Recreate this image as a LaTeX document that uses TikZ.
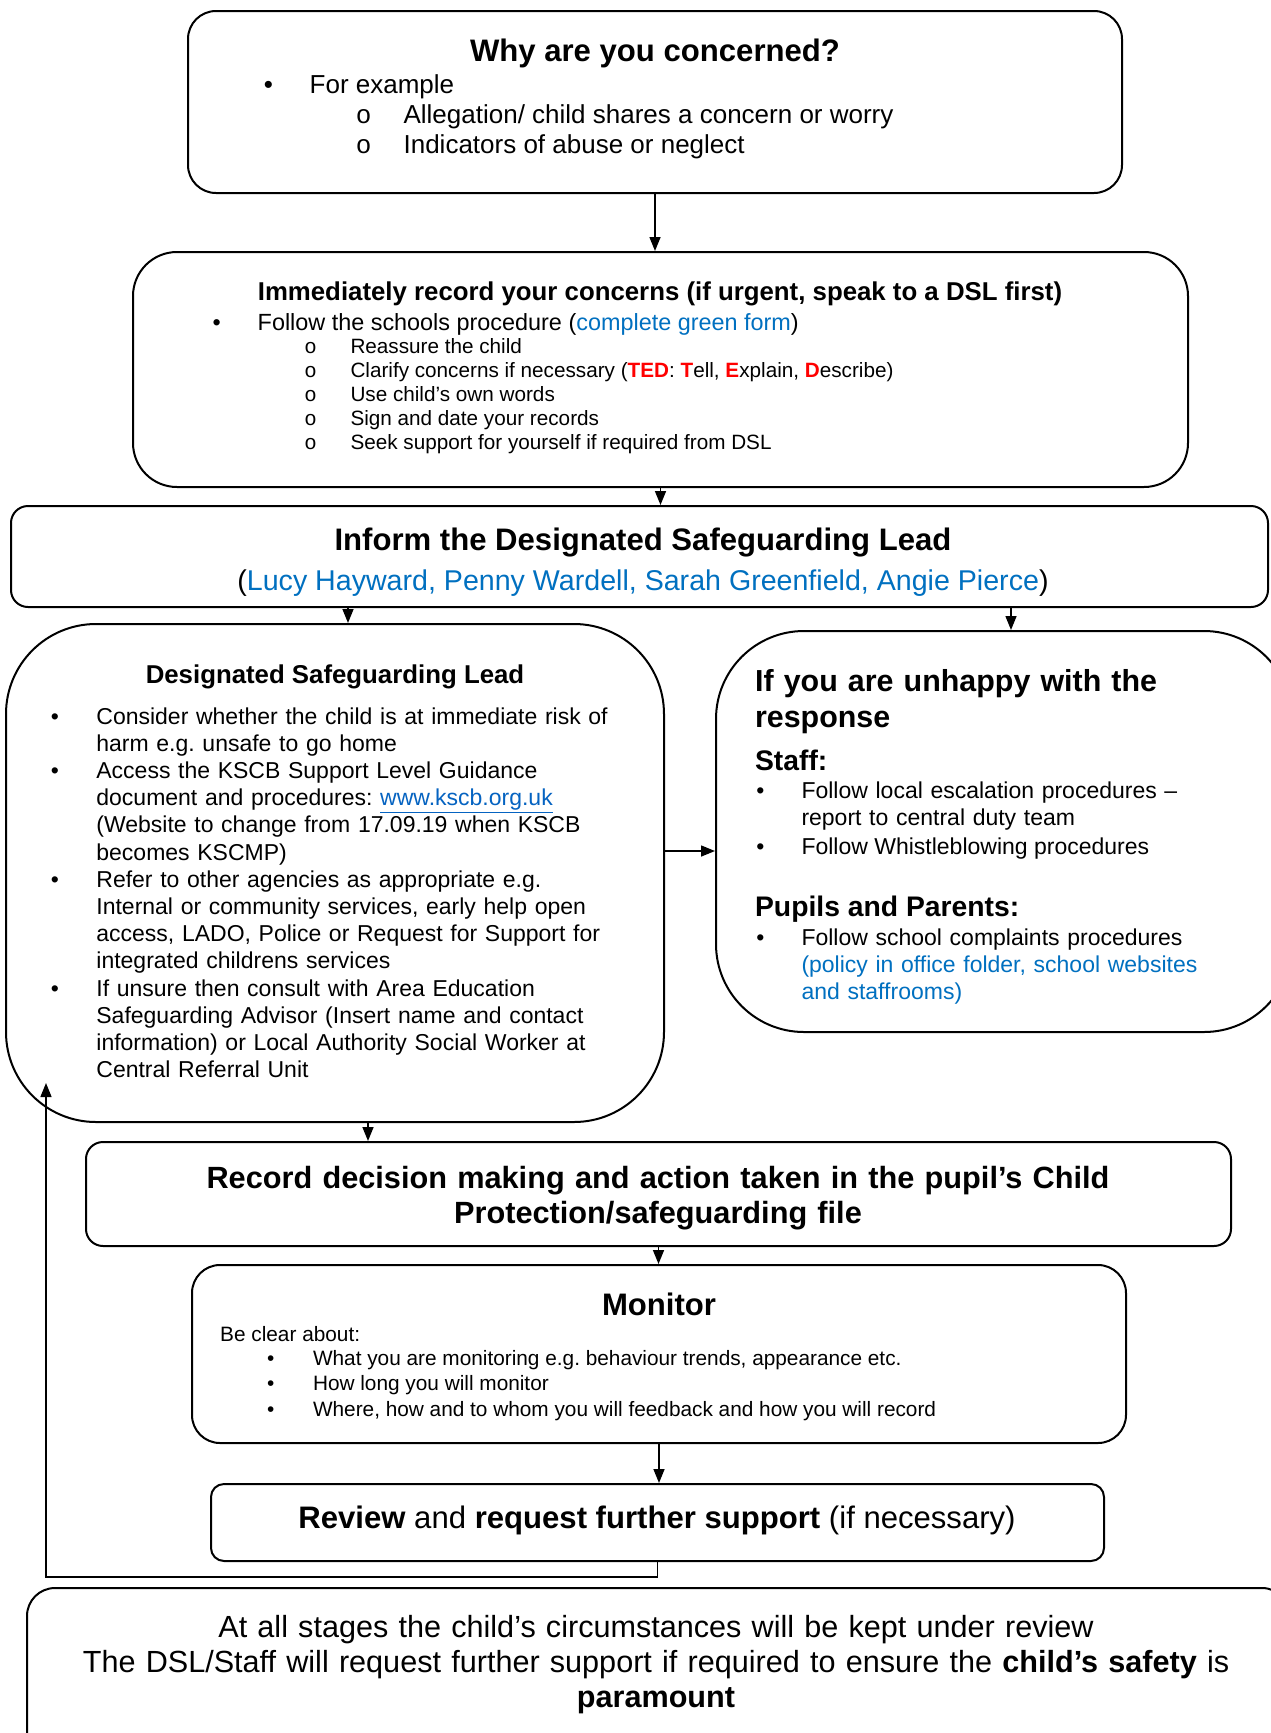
\documentclass[tikz,border=0pt]{standalone}
\usepackage{fontspec}
\setmainfont{Liberation Sans}
\newfontfamily\cnfont{Liberation Mono}
\usetikzlibrary{arrows.meta,fit,calc}
\frenchspacing

\definecolor{dslblue}{RGB}{0,112,192}
\definecolor{linkblue}{RGB}{5,99,193}
\definecolor{tedred}{RGB}{255,0,0}

\newcommand{\bigsize}{\fontsize{31.1}{35.5}\selectfont}
\newcommand{\headsize}{\fontsize{28.3}{32.5}\selectfont}
\newcommand{\subsize}{\fontsize{25.8}{30}\selectfont}
\newcommand{\whysize}{\fontsize{26}{30}\selectfont}
\newcommand{\midsize}{\fontsize{23.4}{27.2}\selectfont}
\newcommand{\bodysize}{\fontsize{23}{27.2}\selectfont}
\newcommand{\smallsize}{\fontsize{20.7}{24.2}\selectfont}
\newcommand{\monsize}{\fontsize{20.8}{25.4}\selectfont}

\tikzset{
	box/.style={draw, line width=2pt, rounded corners=#1, inner sep=0pt},
	txt/.style={anchor=base west, inner sep=0pt, align=left},
	ctxt/.style={anchor=base, inner sep=0pt, align=center},
	bul/.style={anchor=base, inner sep=0pt},
	arr/.style={-{Triangle[length=14pt,width=11pt]}, line width=1.5pt}
}

\begin{document}
\begin{tikzpicture}[x=1pt,y=-1pt]
				\useasboundingbox (0,0) rectangle (1271,1733);
				\fill[white] (0,0) rectangle (1271,1733);

				\begin{scope}
					\node[box=28pt, fit={(188,11) (1122,193)}] (why) {};
					\node[box=44pt, fit={(133,252) (1188,487)}] (immediate) {};
					\node[box=17pt, fit={(11,506) (1268,607)}] (inform) {};
					\node[box=90pt, fit={(6,624) (664,1122)}] (dsl) {};
					\node[box=88pt, fit={(716,631) (1292,1032)}] (unhappy) {};
					\node[box=17pt, fit={(86,1142) (1231,1246)}] (recfile) {};
					\node[box=28pt, fit={(192,1265) (1126,1443)}] (monitor) {};
					\node[box=13pt, fit={(211,1484) (1104,1561)}] (review) {};
					\node[box=28pt, fit={(27,1588) (1290,1760)}] (stages) {};
				\end{scope}

				\begin{scope}[every node/.style={font=\whysize}]
					\node[ctxt, font=\bigsize\bfseries] (whyT) at (655,61) {Why are you concerned?};
					\node[bul] (whyB) at (268.5,93) {\textbullet};
					\node[txt] (whyL) at (309.5,93) {For example};
					\node[bul] (whyO1) at (363.6,123) {\cnfont o};
					\node[txt] (whyL1) at (403.4,123) {Allegation/ child shares a concern or worry};
					\node[bul] (whyO2) at (363.6,153) {\cnfont o};
					\node[txt] (whyL2) at (403.4,153) {Indicators of abuse or neglect};
				\end{scope}

				\begin{scope}[every node/.style={font=\smallsize}]
					\node[ctxt, font=\subsize\bfseries] (immT) at (660,300) {Immediately record your concerns (if urgent, speak to a DSL first)};
					\node[bul, font=\midsize] (immB) at (216.6,330) {\textbullet};
					\node[txt, font=\midsize] (immL) at (257.5,330) {Follow the schools procedure (\textcolor{dslblue}{complete green form})};
					\foreach \yy/\t [count=\i] in {353/{Reassure the child},
							377.2/{Clarify concerns if necessary (\textcolor{tedred}{\textbf{TED}}: \textcolor{tedred}{\textbf{T}}ell, \textcolor{tedred}{\textbf{E}}xplain, \textcolor{tedred}{\textbf{D}}escribe)},
							401.4/{Use child’s own words},
							425.6/{Sign and date your records},
							449.8/{Seek support for yourself if required from DSL}}{
						\node[bul] (immO\i) at (310.6,\yy) {\cnfont o};
						\node[txt] (immL\i) at (350.3,\yy) {\t};
					}
				\end{scope}

				\node[ctxt, font=\bigsize\bfseries] (infT) at (643,550) {Inform the Designated Safeguarding Lead};
				\node[ctxt, font=\fontsize{28.6}{33}\selectfont] (infN) at (643,590) {(\textcolor{dslblue}{Lucy Hayward, Penny Wardell, Sarah Greenfield, Angie Pierce})};

				\begin{scope}[every node/.style={font=\bodysize}]
					\node[ctxt, font=\subsize\bfseries] (dslT) at (335,683) {Designated Safeguarding Lead};
					\foreach \yy [count=\i] in {724,778.4,887.2,996}
						\node[bul] (dslB\i) at (55,\yy) {\textbullet};
					\node[txt, text width=560pt] (dslL1) at (96.2,724) {Consider whether the child is at immediate risk of\\harm e.g. unsafe to go home};
					\node[txt, text width=560pt] (dslL2) at (96.2,778.4) {Access the KSCB Support Level Guidance\\document and procedures: \textcolor{linkblue}{\underline{www.kscb.org.uk}}\\(Website to change from 17.09.19 when KSCB\\becomes KSCMP)};
					\node[txt, text width=560pt] (dslL3) at (96.2,887.2) {Refer to other agencies as appropriate e.g.\\Internal or community services, early help open\\access, LADO, Police or Request for Support for\\integrated childrens services};
					\node[txt, text width=560pt] (dslL4) at (96.2,996) {If unsure then consult with Area Education\\Safeguarding Advisor (Insert name and contact\\information) or Local Authority Social Worker at\\Central Referral Unit};
				\end{scope}

				\begin{scope}[every node/.style={font=\bodysize}]
					\node[txt, text width=480pt, font=\fontsize{30.4}{36.5}\selectfont\bfseries] (unhT) at (754.9,691) {If you are unhappy with the\\response};
					\node[txt, font=\headsize\bfseries] (unhS) at (754.9,770) {Staff:};
					\node[bul] (unhB1) at (760.4,798) {\textbullet};
					\node[txt, text width=450pt] (unhL1) at (801.3,798) {Follow local escalation procedures –\\report to central duty team};
					\node[bul] (unhB2) at (760.4,854) {\textbullet};
					\node[txt] (unhL2) at (801.3,854) {Follow Whistleblowing procedures};
					\node[txt, font=\headsize\bfseries] (unhP) at (754.9,916) {Pupils and Parents:};
					\node[bul] (unhB3) at (760.4,945) {\textbullet};
					\node[txt, text width=450pt] (unhL3) at (801.3,945) {Follow school complaints procedures\\{\color{dslblue}(policy in office folder, school websites\\and staffrooms)}};
				\end{scope}

				\node[ctxt, text width=1100pt, font=\fontsize{30.7}{35.5}\selectfont\bfseries] (recT) at (658,1188) {Record decision making and action taken in the pupil’s Child\\Protection/safeguarding file};

				\begin{scope}[every node/.style={font=\monsize}]
					\node[ctxt, font=\bigsize\bfseries] (monT) at (659,1315) {Monitor};
					\node[txt] (monL) at (220,1341) {Be clear about:};
					\foreach \yy/\t [count=\i] in {1365/{What you are monitoring e.g. behaviour trends, appearance etc.},
							1390.5/{How long you will monitor},
							1416/{Where, how and to whom you will feedback and how you will record}}{
						\node[bul] (monB\i) at (270.8,\yy) {\textbullet};
						\node[txt] (monL\i) at (312.8,\yy) {\t};
					}
				\end{scope}

				\node[ctxt, font=\bigsize] (revT) at (657,1528) {\textbf{Review} and \textbf{request further support} (if necessary)};
				\node[ctxt, text width=1200pt, font=\fontsize{30.6}{35.4}\selectfont] (stgT) at (656,1637) {At all stages the child’s circumstances will be kept under review\\The DSL/Staff will request further support if required to ensure the \textbf{child’s safety} is\\\textbf{paramount}};

				\begin{scope}
					\coordinate (dsltop) at ($(dsl.north)+(13,0)$);
					\coordinate (unhtop) at ($(unhappy.north)+(7,0)$);
					\coordinate (dslright) at ($(dsl.east)+(0,-22)$);
					\coordinate (dslbot) at ($(dsl.south)+(33,0)$);
					\coordinate (loopend) at (46,1083);
					\draw[arr] (why.south) -- (why.south |- immediate.north);
					\draw[arr] (immediate.south) -- (immediate.south |- inform.north);
					\draw[arr] (inform.south -| dsltop) -- (dsltop);
					\draw[arr] (inform.south -| unhtop) -- (unhtop);
					\draw[arr] (dslright) -- (dslright -| unhappy.west);
					\draw[arr] (dslbot) -- (dslbot |- recfile.north);
					\draw[arr] (recfile.south) -- (recfile.south |- monitor.north);
					\draw[arr] (monitor.south) -- (monitor.south |- review.north);
					\draw[arr] (review.south) -- ++(0,15) -| (loopend);
				\end{scope}
			\end{tikzpicture}
\end{document}
